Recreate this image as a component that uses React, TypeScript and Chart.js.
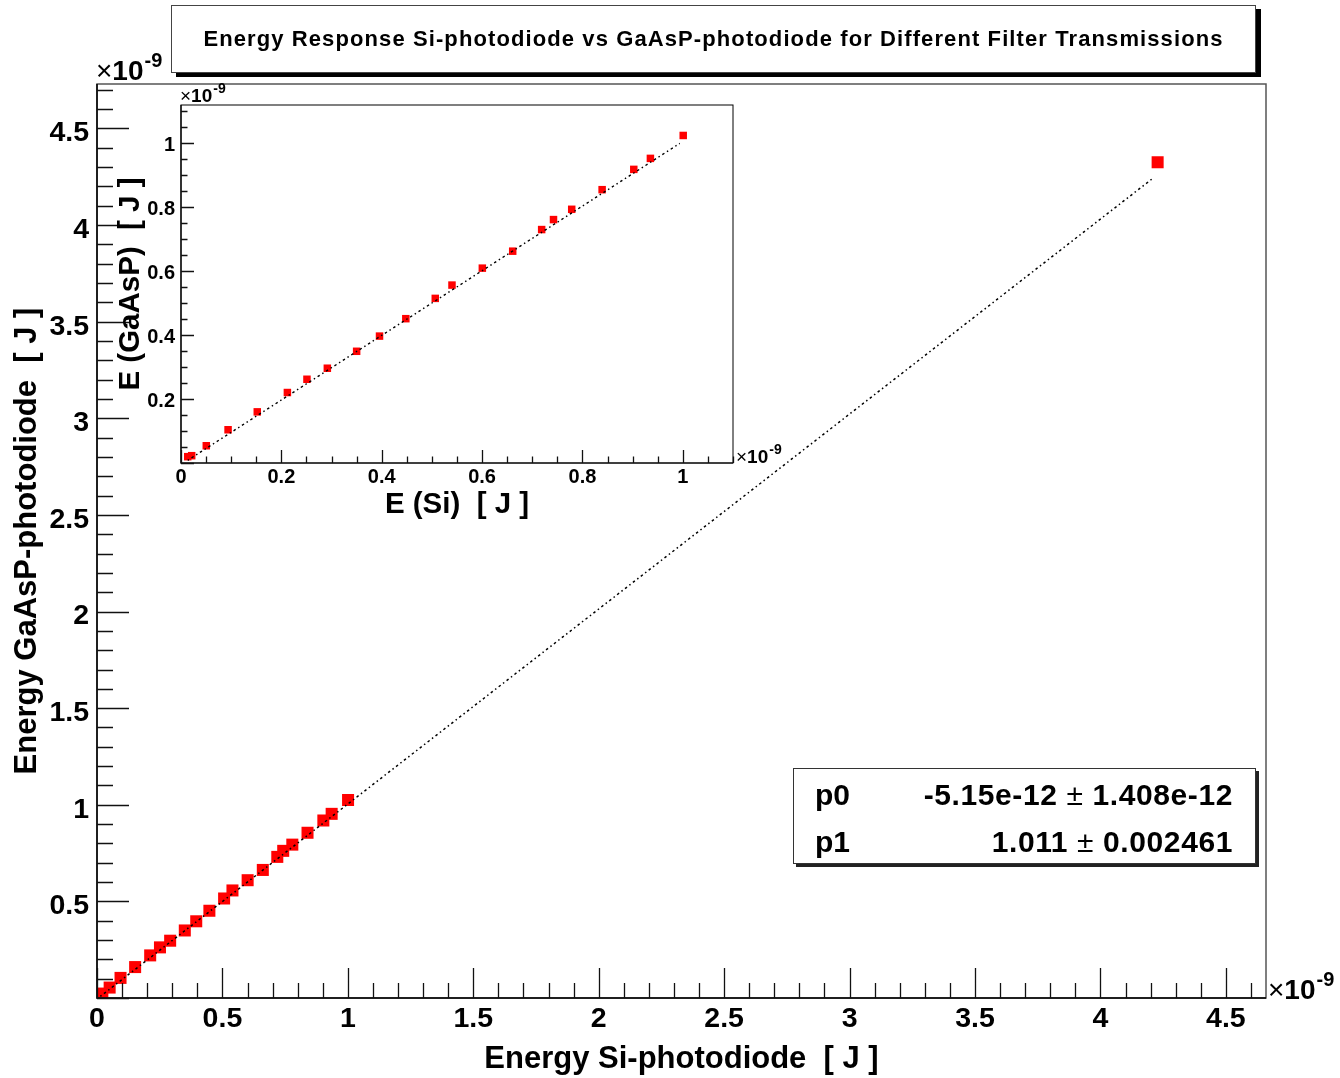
import React, { useEffect, useRef } from "react";
import { Chart, registerables } from "chart.js";

Chart.register(...registerables);

// ---- Data (energies in units of 1e-9 J) ----
const siEnergy = [
  0.0134, 0.0213, 0.0504, 0.0938, 0.152, 0.212, 0.251, 0.2916, 0.35, 0.3956, 0.448,
  0.5067, 0.54, 0.6005, 0.661, 0.7187, 0.7423, 0.7786, 0.8392, 0.9023, 0.9354, 1.0008, 4.228,
];
const gaaspEnergy = [
  0.0198, 0.0229, 0.054, 0.104, 0.16, 0.2205, 0.262, 0.2965, 0.3495, 0.397, 0.4515,
  0.515, 0.5566, 0.6096, 0.6627, 0.7303, 0.7615, 0.7937, 0.8551, 0.9186, 0.953, 1.0247, 4.325,
];

// fit line endpoints (main and inset)
const fitX = [0.0134, 4.212];
const fitY = [0.0084, 4.245];
const insetFitX = [0.0134, 0.994];
const insetFitY = [0.0084, 1.0];

// axis tick labels
const mainXTicks = [0, 0.5, 1, 1.5, 2, 2.5, 3, 3.5, 4, 4.5];
const mainYTicks = [0.5, 1, 1.5, 2, 2.5, 3, 3.5, 4, 4.5];
const insetXTicks = [0, 0.2, 0.4, 0.6, 0.8, 1];
const insetYTicks = [0.2, 0.4, 0.6, 0.8, 1];

const titleText =
  "Energy Response Si-photodiode vs GaAsP-photodiode for Different Filter Transmissions";
const mainXTitle = "Energy Si-photodiode  [ J ]";
const mainYTitle = "Energy GaAsP-photodiode  [ J ]";
const insetXTitle = "E (Si)  [ J ]";
const insetYTitle = "E (GaAsP)  [ J ]";
const fitParams = [
  { name: "p0", value: "-5.15e-12", err: "1.408e-12" },
  { name: "p1", value: "1.011", err: "0.002461" },
];

const FONT = '"Liberation Sans", Arial, Helvetica, sans-serif';

function minorValues(min: number, max: number, step: number, majors: number[]) {
  const out: number[] = [];
  const k0 = Math.ceil(min / step - 1e-9);
  const k1 = Math.floor(max / step + 1e-9);
  for (let k = k0; k <= k1; k++) {
    const v = k * step;
    if (!majors.some((m) => Math.abs(m - v) < 1e-7)) out.push(v);
  }
  return out;
}

type FrameCfg = {
  id: string;
  xMajor: number[];
  yMajor: number[];
  xMinorStep: number;
  yMinorStep: number;
  xMajorLen: number;
  xMinorLen: number;
  yMajorLen: number;
  yMinorLen: number;
  frameColor: string;
  frameWidth: number;
  axisWidth: number;
  expSize: number;
  supSize: number;
  supRise: number;
  expTL: [number, number];
  expBR: [number, number];
};

function drawExp(ctx: CanvasRenderingContext2D, x: number, base: number, cfg: FrameCfg) {
  ctx.fillStyle = "#000";
  ctx.textBaseline = "alphabetic";
  ctx.textAlign = "left";
  ctx.font = `normal ${cfg.expSize}px ${FONT}`;
  ctx.fillText("\u00d7", x, base);
  const w1 = ctx.measureText("\u00d7").width;
  ctx.font = `bold ${cfg.expSize}px ${FONT}`;
  ctx.fillText("10", x + w1, base);
  const w2 = ctx.measureText("10").width;
  ctx.font = `bold ${cfg.supSize}px ${FONT}`;
  ctx.fillText("-9", x + w1 + w2 + 1, base - cfg.supRise);
}

function makeFramePlugin(cfg: FrameCfg) {
  return {
    id: cfg.id,
    afterDraw(chart: any) {
      const { ctx, chartArea: a, scales } = chart;
      const xs = scales.x;
      const ys = scales.y;
      ctx.save();
      ctx.strokeStyle = cfg.frameColor;
      ctx.lineWidth = cfg.frameWidth;
      ctx.strokeRect(a.left, a.top, a.right - a.left, a.bottom - a.top);
      ctx.strokeStyle = "#000";
      ctx.lineWidth = cfg.axisWidth;
      ctx.beginPath();
      ctx.moveTo(a.left, a.top);
      ctx.lineTo(a.left, a.bottom);
      ctx.lineTo(a.right, a.bottom);
      ctx.stroke();

      ctx.lineWidth = 1.3;
      ctx.strokeStyle = "#111";
      ctx.beginPath();
      const xMin = xs.min, xMax = xs.max, yMin = ys.min, yMax = ys.max;
      const tickX = (v: number, len: number) => {
        const p = Math.round(xs.getPixelForValue(v)) + 0.5;
        ctx.moveTo(p, a.bottom);
        ctx.lineTo(p, a.bottom - len);
      };
      const tickY = (v: number, len: number) => {
        const p = Math.round(ys.getPixelForValue(v)) + 0.5;
        ctx.moveTo(a.left, p);
        ctx.lineTo(a.left + len, p);
      };
      cfg.xMajor.forEach((v) => tickX(v, cfg.xMajorLen));
      minorValues(xMin, xMax, cfg.xMinorStep, cfg.xMajor).forEach((v) => tickX(v, cfg.xMinorLen));
      cfg.yMajor.forEach((v) => tickY(v, cfg.yMajorLen));
      minorValues(yMin, yMax, cfg.yMinorStep, cfg.yMajor).forEach((v) => tickY(v, cfg.yMinorLen));
      ctx.stroke();

      drawExp(ctx, a.left + cfg.expTL[0], a.top + cfg.expTL[1], cfg);
      drawExp(ctx, a.right + cfg.expBR[0], a.bottom + cfg.expBR[1], cfg);
      ctx.restore();
    },
  };
}

const fmt = (v: any) => String(Number(Number(v).toFixed(3)));

function buildConfig(opts: {
  fx: number[];
  fy: number[];
  radius: number;
  lineWidth: number;
  dash: number[];
  xMax: number;
  yMin: number;
  yMax: number;
  xTicks: number[];
  yTicks: number[];
  tickSize: number;
  xPad: number;
  yPad: number;
  yLabelOffset: number;
  titleSize: number;
  xTitle: string;
  yTitle: string;
  xTitlePad: number;
  yTitlePad: number;
  padding: { top: number; right: number; left: number; bottom: number };
  yWidth: number;
  xHeight: number;
  frame: FrameCfg;
}): any {
  const fitData = opts.fx.map((x, i) => ({ x, y: opts.fy[i] }));
  const pts = siEnergy.map((x, i) => ({ x, y: gaaspEnergy[i] }));
  return {
    type: "scatter",
    data: {
      datasets: [
        {
          label: "fit",
          data: fitData,
          showLine: true,
          borderColor: "#000",
          borderWidth: opts.lineWidth,
          borderDash: opts.dash,
          pointRadius: 0,
          fill: false,
        },
        {
          label: "data",
          data: pts,
          pointStyle: "rect",
          pointRadius: opts.radius,
          backgroundColor: "#ff0000",
          borderColor: "#ff0000",
          borderWidth: 0,
        },
      ],
    },
    options: {
      responsive: false,
      animation: false,
      devicePixelRatio: 1,
      events: [],
      layout: { padding: opts.padding },
      plugins: {
        legend: { display: false },
        tooltip: { enabled: false },
        title: { display: false },
      },
      scales: {
        x: {
          type: "linear",
          min: 0,
          max: opts.xMax,
          afterBuildTicks: (s: any) => {
            s.ticks = opts.xTicks.map((v) => ({ value: v }));
          },
          afterFit: (s: any) => {
            s.height = opts.xHeight;
          },
          ticks: {
            font: { family: FONT, size: opts.tickSize, weight: "bold" },
            color: "#000",
            padding: opts.xPad,
            maxRotation: 0,
            autoSkip: false,
            callback: (v: any) => fmt(v),
          },
          grid: { display: false, drawTicks: false },
          border: { display: false },
          title: {
            display: true,
            text: opts.xTitle,
            color: "#000",
            font: { family: FONT, size: opts.titleSize, weight: "bold" },
            padding: { top: 0, bottom: opts.xTitlePad },
          },
        },
        y: {
          type: "linear",
          min: opts.yMin,
          max: opts.yMax,
          afterBuildTicks: (s: any) => {
            s.ticks = opts.yTicks.map((v) => ({ value: v }));
          },
          afterFit: (s: any) => {
            s.width = opts.yWidth;
          },
          ticks: {
            font: { family: FONT, size: opts.tickSize, weight: "bold" },
            color: "#000",
            padding: opts.yPad,
            labelOffset: opts.yLabelOffset,
            autoSkip: false,
            callback: (v: any) => fmt(v),
          },
          grid: { display: false, drawTicks: false },
          border: { display: false },
          title: {
            display: true,
            text: opts.yTitle,
            color: "#000",
            font: { family: FONT, size: opts.titleSize, weight: "bold" },
            padding: { top: opts.yTitlePad, bottom: 0 },
          },
        },
      },
    },
    plugins: [makeFramePlugin(opts.frame)],
  };
}

export default function App() {
  const mainRef = useRef<HTMLCanvasElement>(null);
  const insetRef = useRef<HTMLCanvasElement>(null);

  useEffect(() => {
    const main = new Chart(
      mainRef.current as HTMLCanvasElement,
      buildConfig({
        fx: fitX,
        fy: fitY,
        radius: 8.5,
        lineWidth: 1.5,
        dash: [1.5, 3, 2.5, 3],
        xMax: 4.66,
        yMin: 0,
        yMax: 4.73,
        xTicks: mainXTicks,
        yTicks: mainYTicks,
        tickSize: 28.5,
        xPad: 4.5,
        yPad: 8,
        yLabelOffset: 5,
        titleSize: 31,
        xTitle: mainXTitle,
        yTitle: mainYTitle,
        xTitlePad: 0,
        yTitlePad: 9,
        padding: { top: 84, right: 74, left: 0, bottom: 0 },
        yWidth: 97,
        xHeight: 80,
        frame: {
          id: "mainFrame",
          xMajor: mainXTicks,
          yMajor: [0, ...mainYTicks],
          xMinorStep: 0.1,
          yMinorStep: 0.1,
          xMajorLen: 30,
          xMinorLen: 15,
          yMajorLen: 32,
          yMinorLen: 16,
          frameColor: "#555",
          frameWidth: 1.5,
          axisWidth: 1.5,
          expSize: 28,
          supSize: 20,
          supRise: 13,
          expTL: [-1, -4],
          expBR: [2, 1],
        },
      })
    );
    const inset = new Chart(
      insetRef.current as HTMLCanvasElement,
      buildConfig({
        fx: insetFitX,
        fy: insetFitY,
        radius: 5.3,
        lineWidth: 1.4,
        dash: [1.5, 3, 2.5, 3],
        xMax: 1.1,
        yMin: 0,
        yMax: 1.12,
        xTicks: insetXTicks,
        yTicks: insetYTicks,
        tickSize: 20,
        xPad: 2.5,
        yPad: 6,
        yLabelOffset: 2,
        titleSize: 29.5,
        xTitle: insetXTitle,
        yTitle: insetYTitle,
        xTitlePad: 17,
        yTitlePad: 13,
        padding: { top: 25, right: 87, left: 0, bottom: 0 },
        yWidth: 81,
        xHeight: 77,
        frame: {
          id: "insetFrame",
          xMajor: insetXTicks,
          yMajor: [0, ...insetYTicks],
          xMinorStep: 0.05,
          yMinorStep: 0.05,
          xMajorLen: 13,
          xMinorLen: 6.5,
          yMajorLen: 13,
          yMinorLen: 6.5,
          frameColor: "#000",
          frameWidth: 1,
          axisWidth: 1.2,
          expSize: 19,
          supSize: 14,
          supRise: 9,
          expTL: [-1, -3],
          expBR: [3, 0],
        },
      })
    );
    return () => {
      main.destroy();
      inset.destroy();
    };
  }, []);

  return (
    <div
      style={{
        position: "absolute",
        left: 0,
        top: 0,
        width: 1340,
        height: 1078,
        background: "#fff",
        overflow: "hidden",
        fontFamily: FONT,
      }}
    >
      <canvas
        ref={mainRef}
        width={1340}
        height={1078}
        style={{ position: "absolute", left: 0, top: 0, width: 1340, height: 1078 }}
      />
      <canvas
        ref={insetRef}
        width={720}
        height={460}
        style={{ position: "absolute", left: 100, top: 80, width: 720, height: 460 }}
      />
      <div
        style={{
          position: "absolute",
          left: 171,
          top: 5,
          width: 1083,
          height: 66,
          border: "1px solid #444",
          boxShadow: "5px 4px 0 #000",
          background: "#fff",
          display: "flex",
          alignItems: "center",
          justifyContent: "center",
          fontWeight: "bold",
          fontSize: 22,
          letterSpacing: "1.1px",
          color: "#000",
          whiteSpace: "pre",
        }}
      >
        {titleText}
      </div>
      <div
        style={{
          position: "absolute",
          left: 793,
          top: 768,
          width: 461,
          height: 94,
          border: "1px solid #333",
          boxShadow: "3px 3px 0 #222",
          background: "#fff",
          color: "#000",
          fontWeight: "bold",
          fontSize: 30,
        }}
      >
        {fitParams.map((p, i) => (
          <div
            key={p.name}
            style={{
              position: "absolute",
              left: 21,
              right: 22,
              top: 7 + i * 47,
              height: 38,
              display: "flex",
              justifyContent: "space-between",
              alignItems: "center",
              whiteSpace: "pre",
            }}
          >
            <span>{p.name}</span>
            <span style={{ letterSpacing: "0.6px" }}>
              {p.value}
              <span style={{ fontWeight: 400 }}> {"\u00b1"} </span>
              {p.err}
            </span>
          </div>
        ))}
      </div>
    </div>
  );
}
